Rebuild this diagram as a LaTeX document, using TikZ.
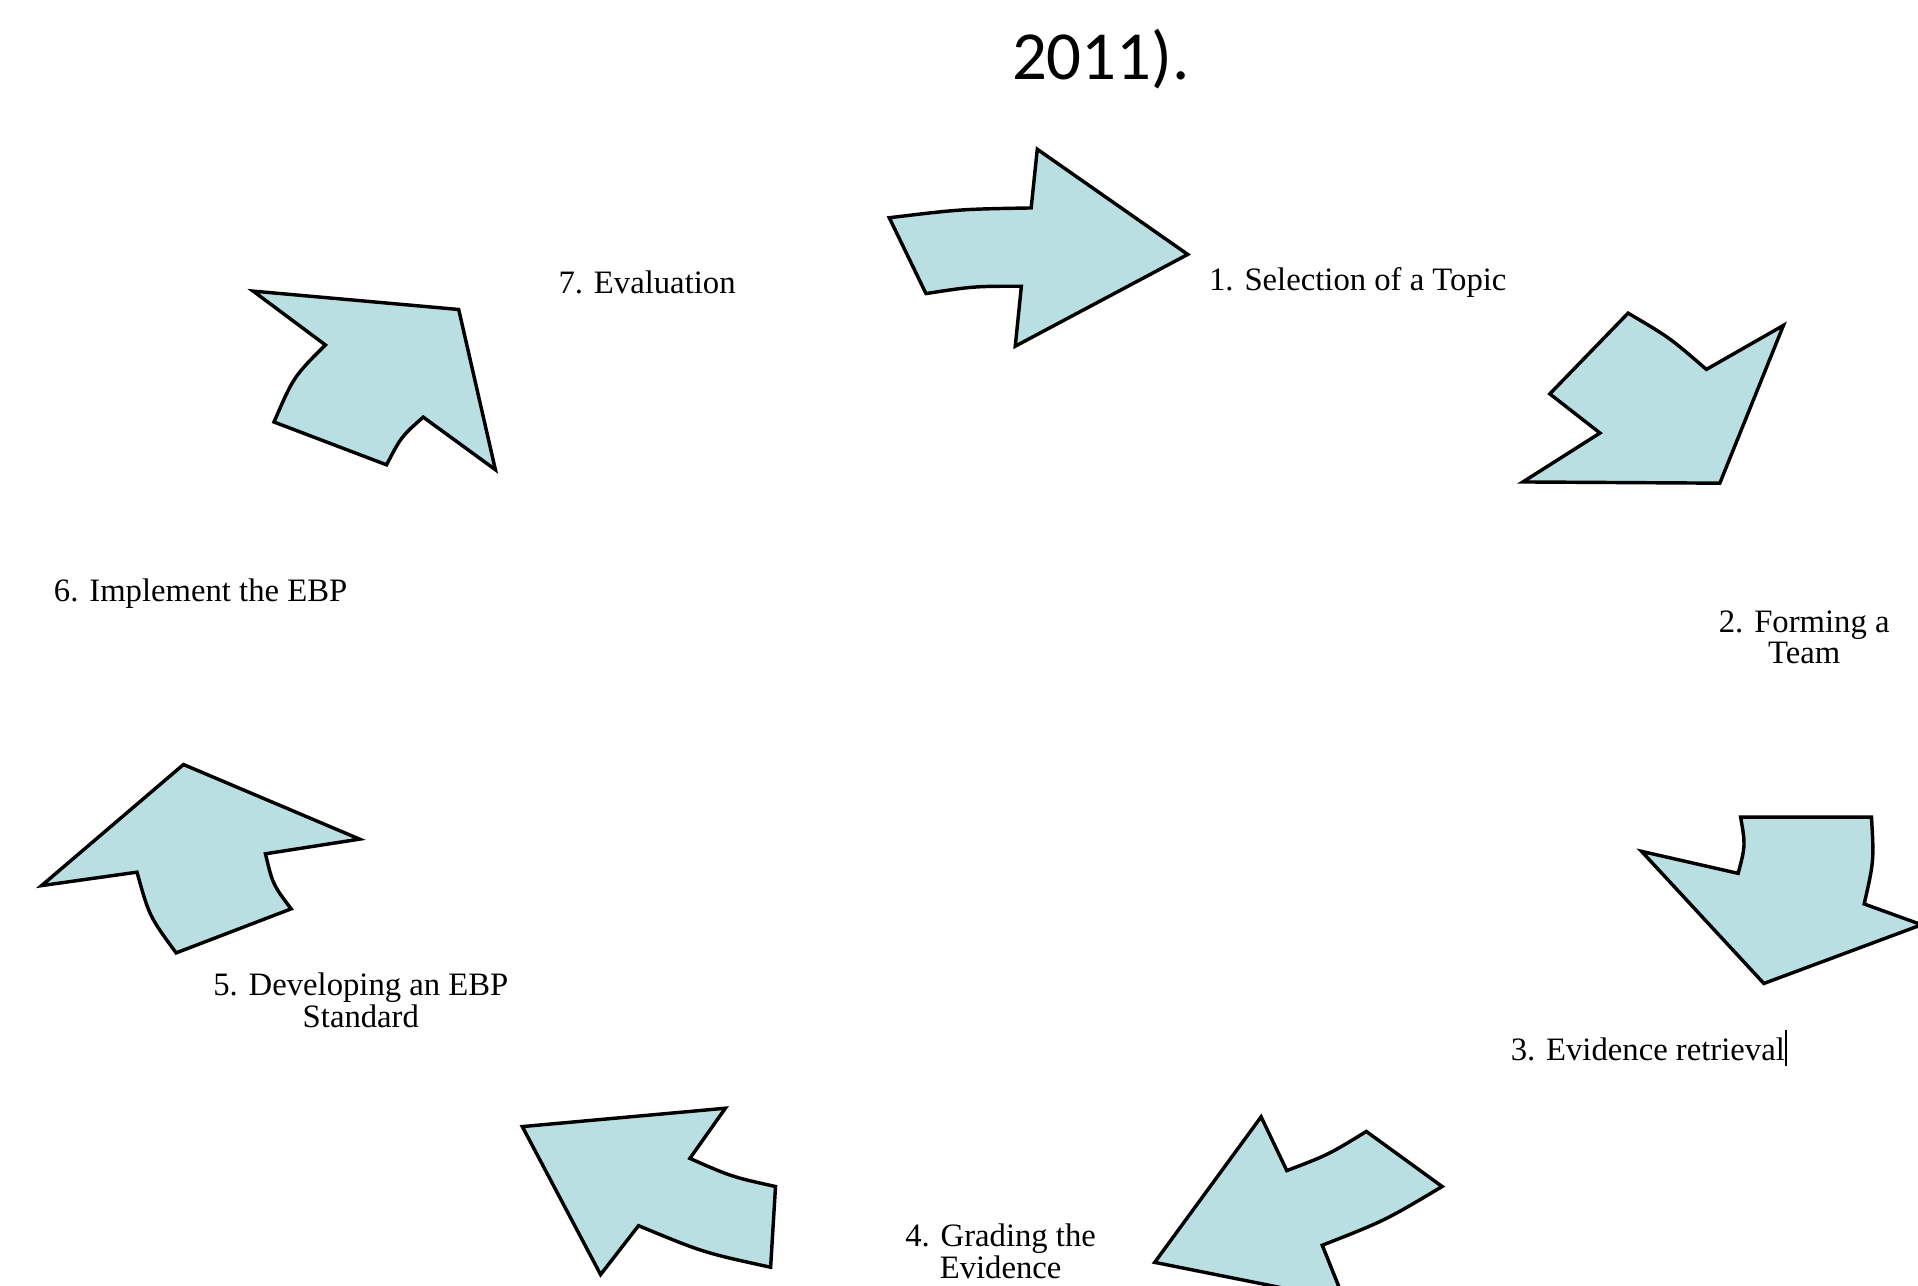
\documentclass[tikz,border=0pt]{standalone}
\usepackage{fontspec}
\setmainfont{Liberation Serif}
\newfontfamily\titlefont{Carlito}
\usepackage{xcolor}
\usepackage{tikz}
\definecolor{arrowblue}{RGB}{185,223,227}
\tikzstyle{steptext}=[align=center,inner sep=0pt,font=\fontsize{7.6}{7.4}\selectfont]
\tikzstyle{cyclearrow}=[draw=black,fill=arrowblue,line width=0.8pt,line join=miter]

\begin{document}
\begin{tikzpicture}[x=0.01cm,y=-0.01cm]
        \useasboundingbox (0,0) rectangle (1568,1051);
        \clip (0,0) rectangle (1568,1051);
        \node at (900,48) [font=\titlefont\fontsize{16}{19}\selectfont] (year) {2011).};
        % the seven steps
        \node at (1110,231) [steptext] (topic) {1. Selection of a Topic};
        \node at (1475,521) [steptext] (team) {2. Forming a\\Team};
        \node at (1348,857) [steptext] (retrieval) {3. Evidence retrieval\rule[-0.4ex]{0.5pt}{2.4ex}};
        \node at (818,1023) [steptext] (grading) {4. Grading the\\Evidence};
        \node at (295,818) [steptext] (standard) {5. Developing an EBP\\Standard};
        \node at (164,485) [steptext] (implement) {6. Implement the EBP};
        \node at (529,231) [steptext] (evaluation) {7. Evaluation};
        % curved arrows of the cycle
        \draw [cyclearrow] (727,178) .. controls (785,171) .. (843,170) -- (848,122) -- (971,208)
              -- (830,283) -- (835,234) .. controls (796,234) .. (757,240) -- cycle;
        \draw [cyclearrow] (1331,256) .. controls (1365,276) .. (1395,302) -- (1458,266) -- (1406,395)
              -- (1245,394) -- (1308,354) -- (1267,322) -- cycle;
        \draw [cyclearrow] (1423,668) -- (1530,668) .. controls (1532,704) .. (1524,739) -- (1571,756)
              -- (1442,804) -- (1342,696) -- (1421,714) .. controls (1427,691) .. (1423,668) -- cycle;
        \draw [cyclearrow] (1031,913) -- (1052,957) .. controls (1086,944) .. (1117,925) -- (1179,970)
              .. controls (1132,998) .. (1081,1018) -- (1099,1063) -- (944,1032) -- cycle;
        \draw [cyclearrow] (427,921) -- (593,906) -- (564,947) .. controls (598,962) .. (634,970)
              -- (630,1036) .. controls (575,1024) .. (522,1002) -- (491,1042) -- cycle;
        \draw [cyclearrow] (150,625) -- (294,686) -- (217,698) .. controls (223,723) .. (238,743)
              -- (144,779) .. controls (122,749) .. (112,713) -- (34,724) -- cycle;
        \draw [cyclearrow] (207,238) -- (375,253) -- (405,384) -- (346,341) .. controls (328,357) .. (316,380)
              -- (224,345) .. controls (240,308) .. (266,282) -- cycle;
\end{tikzpicture}
\end{document}
